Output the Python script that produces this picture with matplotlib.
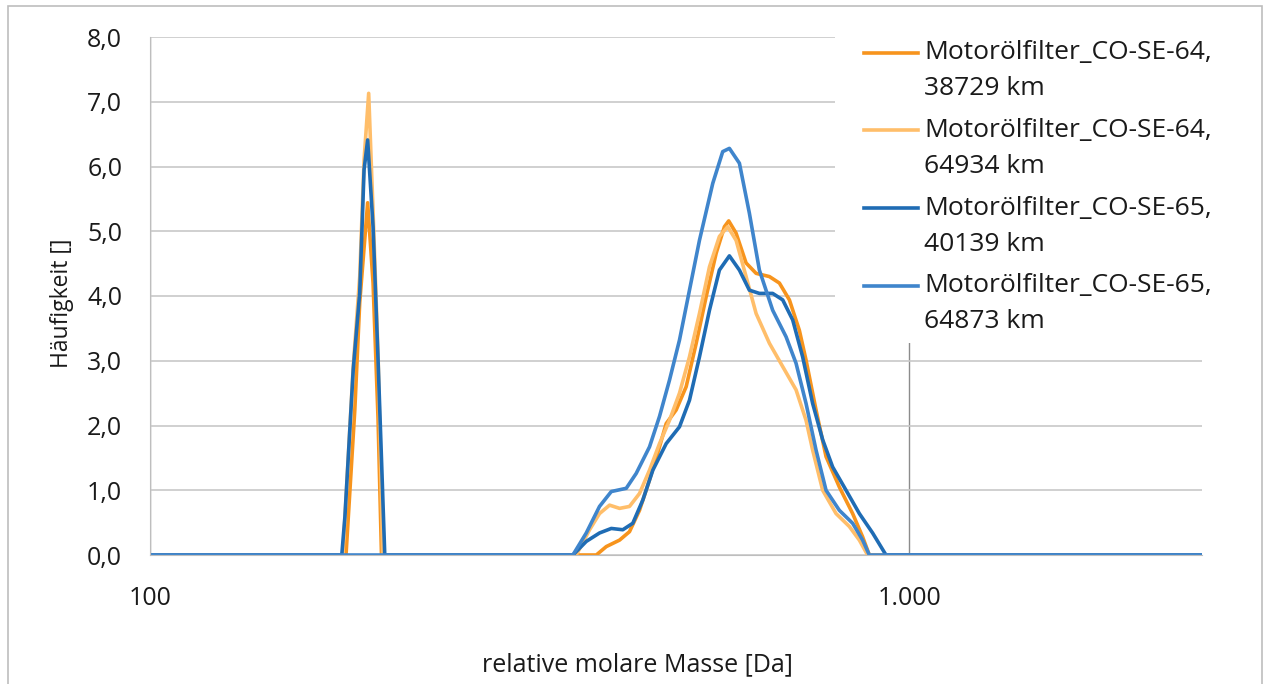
import matplotlib
matplotlib.use("Agg")
import matplotlib.pyplot as plt
from matplotlib.ticker import FixedLocator, FixedFormatter, NullLocator
from matplotlib.patches import Rectangle
from matplotlib.lines import Line2D

plt.rcParams['font.family'] = ['Open Sans', 'DejaVu Sans']

labels = ['Motorölfilter_CO-SE-64,\n38729 km',
          'Motorölfilter_CO-SE-64,\n64934 km',
          'Motorölfilter_CO-SE-65,\n40139 km',
          'Motorölfilter_CO-SE-65,\n64873 km']
colors = ['#F7941D', '#FFBE6A', '#1F6CB4', '#3F85CC']

# relative molare Masse [Da] / Häufigkeit []
m_38729 = [100, 181.2, 186.1, 188.9, 193.5, 196.7, 199.7, 201.8,
           387.1, 399.0, 415.4, 428.1, 441.3, 454.9, 468.9, 478.5, 493.2, 508.4,
           524.1, 540.2, 556.8, 570.9, 578.4, 591.5, 609.7, 628.5, 654.4, 674.5,
           695.3, 716.6, 731.3, 753.8, 777.0, 809.0, 842.3, 868.2, 886.0, 2430]
h_38729 = [0, 0, 2.24, 3.90, 5.44, 4.20, 2.10, 0,
           0, 0.13, 0.23, 0.36, 0.69, 1.16, 1.67, 2.03, 2.24, 2.60,
           3.27, 3.99, 4.66, 5.07, 5.16, 4.97, 4.51, 4.35, 4.30, 4.20,
           3.94, 3.47, 3.01, 2.24, 1.52, 1.05, 0.64, 0.28, 0, 0]

m_64934 = [100, 179.5, 185.2, 188.9, 191.4, 194.1, 196.7, 199.7, 202.5,
           364.3, 379.3, 390.9, 403.0, 415.4, 428.1, 441.3, 454.9, 468.9, 483.3,
           498.2, 513.5, 529.3, 545.6, 562.3, 576.7, 591.5, 609.7, 628.5, 654.4,
           681.3, 709.5, 731.3, 746.1, 769.1, 800.9, 833.9, 859.6, 881.4, 2430]
h_64934 = [0, 0, 2.9, 4.3, 6.1, 7.13, 5.3, 3.1, 0,
           0, 0.39, 0.64, 0.77, 0.72, 0.75, 0.95, 1.31, 1.72, 2.08,
           2.50, 3.06, 3.73, 4.45, 4.92, 5.07, 4.86, 4.30, 3.73, 3.27,
           2.91, 2.55, 2.08, 1.62, 1.00, 0.64, 0.44, 0.23, 0, 0]

m_40139 = [100, 178.9, 180.6, 185.2, 188.9, 191.4, 193.5, 196.7, 199.7, 201.8, 203.8,
           360.6, 375.5, 390.9, 405.1, 419.5, 432.4, 445.8, 459.5, 478.5, 498.2,
           513.5, 529.3, 545.6, 562.3, 579.6, 597.5, 615.8, 634.8, 660.9, 681.3,
           702.3, 723.8, 746.1, 769.1, 792.7, 825.6, 859.6, 894.9, 931.9, 2430]
h_40139 = [0, 0, 0.59, 2.86, 4.05, 5.95, 6.41, 5.07, 3.01, 1.47, 0,
           0, 0.21, 0.34, 0.41, 0.39, 0.49, 0.85, 1.31, 1.72, 1.98,
           2.39, 3.06, 3.78, 4.40, 4.62, 4.40, 4.09, 4.04, 4.04, 3.94,
           3.63, 3.06, 2.34, 1.78, 1.36, 1.00, 0.64, 0.34, 0, 0]

m_64873 = [100, 360.6, 375.5, 390.9, 405.1, 423.9, 436.9, 454.9, 468.9, 483.3,
           498.2, 513.5, 529.3, 551.1, 568.0, 579.6, 597.5, 615.8, 634.8, 660.9,
           688.3, 709.5, 731.3, 753.8, 777.0, 809.0, 842.3, 868.2, 886.0, 2430]
h_64873 = [0, 0, 0.34, 0.75, 0.98, 1.03, 1.26, 1.67, 2.14, 2.70,
           3.32, 4.09, 4.86, 5.74, 6.23, 6.28, 6.05, 5.28, 4.40, 3.78,
           3.37, 2.96, 2.34, 1.62, 1.00, 0.69, 0.49, 0.23, 0, 0]

series = [(m_38729, h_38729), (m_64934, h_64934),
          (m_40139, h_40139), (m_64873, h_64873)]

W, H = 1265, 684
fig = plt.figure(figsize=(W / 100, H / 100), dpi=100)
ax = fig.add_axes([150 / W, 129 / H, 1052 / W, 518 / H])

for (m, h), c in zip(series, colors):
    ax.plot(m, h, color=c, lw=2.6, solid_joinstyle='round')

ax.set_xscale('log')
ax.set_xlim(100, 2430)
ax.set_ylim(0, 8)
ax.xaxis.set_major_locator(FixedLocator([100, 1000]))
ax.xaxis.set_major_formatter(FixedFormatter(['100', '1.000']))
ax.xaxis.set_minor_locator(NullLocator())
ax.set_yticks(range(9))
ax.set_yticklabels([f'{v},0' for v in range(9)])
ax.tick_params(length=0, labelsize=18, colors='#1A1A1A')
ax.tick_params(axis='y', pad=20)
ax.tick_params(axis='x', pad=22)

ax.grid(axis='y', color='#C8C8C8', lw=1.2)
ax.grid(axis='x', color='#8C8C8C', lw=1.0)
ax.set_axisbelow(True)
for s in ['top', 'right']:
    ax.spines[s].set_visible(False)
ax.spines['left'].set_color('#BEBEBE')
ax.spines['bottom'].set_color('#BEBEBE')

ax.set_xlabel('relative molare Masse [Da]', fontsize=18, color='#1A1A1A')
ax.xaxis.set_label_coords((637 - 150) / 1052, -(665 - 555) / 518)
ax.xaxis.label.set_va('center')
ax.set_ylabel('Häufigkeit []', fontsize=16.5, color='#1A1A1A')
ax.yaxis.set_label_coords(-(150 - 62) / 1052, (555 - 303) / 518)
ax.yaxis.label.set_va('center')

# legend (white box over the grid, handle on the first text line)
ax.add_patch(Rectangle((835 / W, 1 - 343 / H), 375 / W, 320 / H,
                       transform=fig.transFigure, facecolor='white',
                       edgecolor='none', zorder=3, clip_on=False))
for i, (lab, c) in enumerate(zip(labels, colors)):
    y0 = 52.5 + 77.8 * i
    fig.add_artist(Line2D([864 / W, 918 / W], [1 - y0 / H, 1 - y0 / H],
                          color=c, lw=2.6, transform=fig.transFigure))
    line1, line2 = lab.split('\n')
    fig.text(924 / W, 1 - y0 / H, line1, fontsize=19, va='center',
             color='#1A1A1A')
    fig.text(924 / W, 1 - (y0 + 36) / H, line2, fontsize=19, va='center',
             color='#1A1A1A')

fig.patches.append(Rectangle((8 / W, -0.01), 1254 / W, 1 - 6 / H + 0.01,
                             transform=fig.transFigure, fill=False,
                             edgecolor='#BDBDBD', lw=1.2))

fig.savefig('out.png', dpi=100)
